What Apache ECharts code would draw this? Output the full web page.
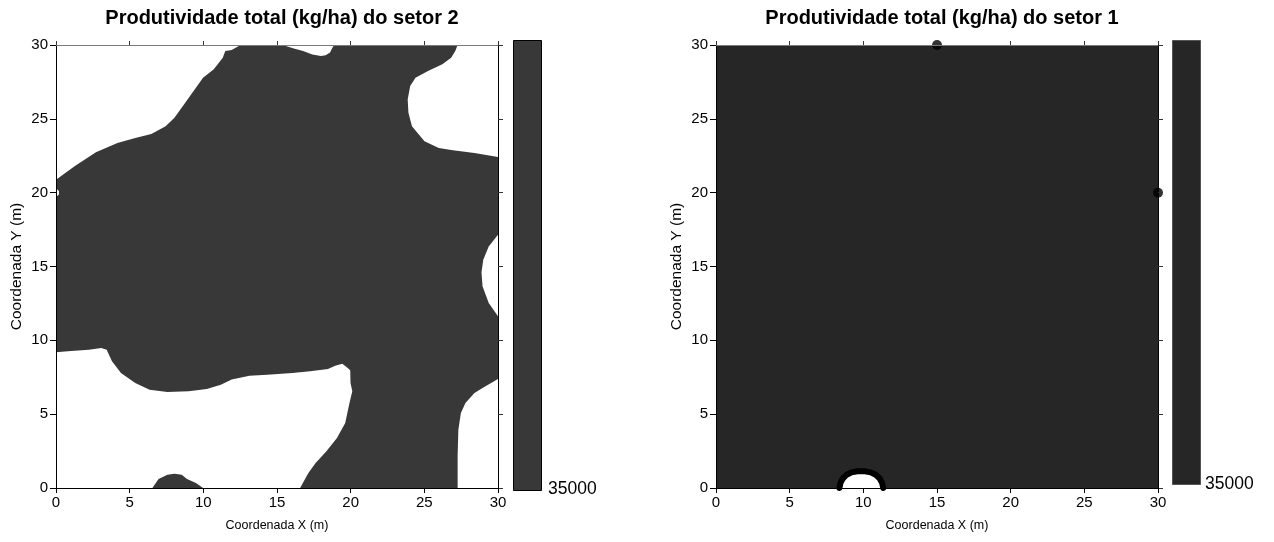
<!DOCTYPE html>
<html><head><meta charset="utf-8">
<script src="https://cdn.jsdelivr.net/npm/echarts@6/dist/echarts.min.js"></script>
<style>html,body{margin:0;padding:0;background:#fff}#c{width:1274px;height:542px}</style>
</head><body><div id="c"></div>
<script>
// ---- data ----
const titleLeft = 'Produtividade total (kg/ha) do setor 2';
const titleRight = 'Produtividade total (kg/ha) do setor 1';
const xName = 'Coordenada X (m)';
const yName = 'Coordenada Y (m)';
const axisMin = 0, axisMax = 30, axisStep = 5;
const colorbarLabel = '35000';

// sector 2: full field at 35000 level, white = below level
const fieldRect = [[0,0],[30,0],[30,30],[0,30]];
const s2WhiteTopLeft = [[0,30],[0,20.88],[1.26,21.79],[2.71,22.74],[4.17,23.37],[5.38,23.71],[6.47,23.98],[7.44,24.5],[8.04,25.07],[8.77,26.09],[9.98,27.78],[10.71,28.35],[11.32,29.14],[11.49,29.59],[11.92,29.66],[12.53,30]];
const s2WhiteNotch = [[0,20.3],[0.2,20.12],[0.2,19.88],[0,19.7]];
const s2WhiteTopMid = [[15.2,30],[15.6,29.93],[16.2,29.75],[16.77,29.59],[17.4,29.35],[17.98,29.25],[18.3,29.3],[18.6,29.5],[18.75,29.8],[18.88,30]];
const s2WhiteTopRight = [[27.26,30],[30,30],[30,22.42],[28.4,22.69],[26.94,22.87],[25.98,23.03],[25.01,23.48],[24.16,24.5],[23.92,25.41],[23.87,26.31],[24.04,27.22],[24.4,27.78],[25.25,28.24],[26.22,28.69],[26.82,29.14],[27.1,29.6]];
const s2WhiteRightMid = [[30,17.15],[29.37,16.36],[29.0,15.45],[28.88,14.6],[28.95,13.66],[29.37,12.53],[30,11.63]];
const s2WhiteBottomLeft = [[0,0],[0,9.19],[1.02,9.28],[2.23,9.37],[3.08,9.48],[3.44,9.37],[3.8,8.58],[4.41,7.79],[5.38,7.11],[6.35,6.66],[7.56,6.5],[9.01,6.55],[10.23,6.7],[11.19,7.0],[11.92,7.34],[13.13,7.61],[14.34,7.67],[16.04,7.79],[17.25,7.9],[18.46,8.06],[18.95,8.28],[19.43,8.42],[19.72,8.19],[19.97,7.97],[19.99,7.11],[20.11,6.55],[19.92,5.76],[19.63,4.4],[19.07,3.39],[18.34,2.48],[17.62,1.69],[17.13,1.02],[16.57,0],[9.98,0],[9.5,0.34],[8.89,0.61],[8.53,0.9],[8.04,0.97],[7.56,0.9],[6.96,0.61],[6.54,0]];
const s2WhiteBottomRight = [[27.26,0],[27.26,2.14],[27.31,3.95],[27.48,5.08],[27.79,5.76],[28.4,6.43],[29.12,6.88],[30,7.38],[30,0]];

// sector 1: full field, sample points and small contour arc
const s1Points = [[15,30],[30,20]];
const s1Arc = [[8.38,0],[8.45,0.36],[8.62,0.66],[8.87,0.9],[9.2,1.06],[9.6,1.13],[10.1,1.13],[10.5,1.06],[10.84,0.9],[11.1,0.66],[11.27,0.36],[11.35,0]];

// ---- styles ----
const FONT = 'Arial, "Liberation Sans", sans-serif';
const fillS2 = '#383838', fillS1 = '#262626';

function polygonSeries(points, axisIdx, fill, z) {
  return {
    type: 'custom', xAxisIndex: axisIdx * 2, yAxisIndex: axisIdx * 2, z: z,
    silent: true, animation: false, clip: false,
    data: points,
    renderItem: function (params, api) {
      if (params.dataIndex !== 0) return null;
      return { type: 'polygon', shape: { points: points.map(p => api.coord(p)) }, style: { fill: fill } };
    }
  };
}
function polylineSeries(points, axisIdx, stroke, width, z) {
  return {
    type: 'custom', xAxisIndex: axisIdx * 2, yAxisIndex: axisIdx * 2, z: z,
    silent: true, animation: false, clip: false,
    data: points,
    renderItem: function (params, api) {
      if (params.dataIndex !== 0) return null;
      return { type: 'polyline', shape: { points: points.map(p => api.coord(p)) },
        style: { stroke: stroke, lineWidth: width, fill: null, lineCap: 'round', lineJoin: 'round' } };
    }
  };
}

function axesFor(gridIndex) {
  const base = { type: 'value', gridIndex: gridIndex, min: axisMin, max: axisMax, interval: axisStep, z: 10, splitLine: { show: false } };
  const xb = Object.assign({}, base, {
    position: 'bottom',
    axisLine: { show: true, onZero: false, lineStyle: { color: '#000', width: 1 } },
    axisTick: { show: true, inside: false, length: 5, lineStyle: { color: '#000' } },
    axisLabel: { show: true, color: '#000', fontSize: 15, fontFamily: FONT, margin: 7 },
    name: xName, nameLocation: 'middle', nameGap: 31,
    nameTextStyle: { color: '#000', fontSize: 12.5, fontFamily: FONT }
  });
  const xt = Object.assign({}, base, {
    position: 'top',
    axisLine: { show: true, onZero: false, lineStyle: { color: '#7a7a7a', width: 1 } },
    axisTick: { show: true, inside: false, length: 4, lineStyle: { color: '#333' } },
    axisLabel: { show: false }
  });
  const yl = Object.assign({}, base, {
    position: 'left',
    axisLine: { show: true, onZero: false, lineStyle: { color: '#000', width: 1 } },
    axisTick: { show: true, inside: false, length: 6, lineStyle: { color: '#000' } },
    axisLabel: { show: true, color: '#000', fontSize: 15, fontFamily: FONT, margin: 8 },
    name: yName, nameLocation: 'middle', nameGap: 31, nameRotate: 90,
    nameTextStyle: { color: '#000', fontSize: 15.5, fontFamily: FONT }
  });
  const yr = Object.assign({}, base, {
    position: 'right',
    axisLine: { show: true, onZero: false, lineStyle: { color: '#000', width: 1 } },
    axisTick: { show: true, inside: false, length: 5, lineStyle: { color: '#333' } },
    axisLabel: { show: false }
  });
  return { x: [xb, xt], y: [yl, yr] };
}
const a0 = axesFor(0), a1 = axesFor(1);

const chart = echarts.init(document.getElementById('c'), null, { renderer: 'canvas' });
chart.setOption({
  animation: false,
  backgroundColor: '#fff',
  title: [
    { text: titleLeft, left: 277, top: 3, textAlign: 'center', textStyle: { fontSize: 20, fontWeight: 'bold', fontFamily: FONT, color: '#000' } },
    { text: titleRight, left: 937, top: 3, textAlign: 'center', textStyle: { fontSize: 20, fontWeight: 'bold', fontFamily: FONT, color: '#000' } }
  ],
  grid: [
    { left: 56, top: 45, width: 442, height: 443, containLabel: false },
    { left: 716, top: 45, width: 442, height: 443, containLabel: false }
  ],
  xAxis: [a0.x[0], a0.x[1], a1.x[0], a1.x[1]],
  yAxis: [a0.y[0], a0.y[1], a1.y[0], a1.y[1]],
  series: [
    polygonSeries(fieldRect, 0, fillS2, 1),
    polygonSeries(s2WhiteTopLeft, 0, '#fff', 2),
    polygonSeries(s2WhiteNotch, 0, '#fff', 2),
    polygonSeries(s2WhiteTopMid, 0, '#fff', 2),
    polygonSeries(s2WhiteTopRight, 0, '#fff', 2),
    polygonSeries(s2WhiteRightMid, 0, '#fff', 2),
    polygonSeries(s2WhiteBottomLeft, 0, '#fff', 2),
    polygonSeries(s2WhiteBottomRight, 0, '#fff', 2),
    polygonSeries(fieldRect, 1, fillS1, 1),
    polygonSeries(s1Arc, 1, '#fff', 2),
    polylineSeries(s1Arc, 1, '#000', 6, 3),
    {
      type: 'scatter', xAxisIndex: 2, yAxisIndex: 2, z: 4, clip: false, silent: true,
      data: s1Points, symbol: 'circle', symbolSize: 10,
      itemStyle: { color: '#000' }
    }
  ],
  graphic: [
    { type: 'rect', left: 513, top: 40, shape: { width: 28, height: 450 }, style: { fill: fillS2, stroke: '#000', lineWidth: 1 } },
    { type: 'text', left: 548, top: 480, style: { text: colorbarLabel, font: '17.5px ' + FONT, fill: '#000' } },
    { type: 'rect', left: 1172, top: 40, shape: { width: 28, height: 444 }, style: { fill: fillS1, stroke: '#555', lineWidth: 1 } },
    { type: 'text', left: 1205, top: 475, style: { text: colorbarLabel, font: '17.5px ' + FONT, fill: '#000' } }
  ]
});
</script></body></html>
